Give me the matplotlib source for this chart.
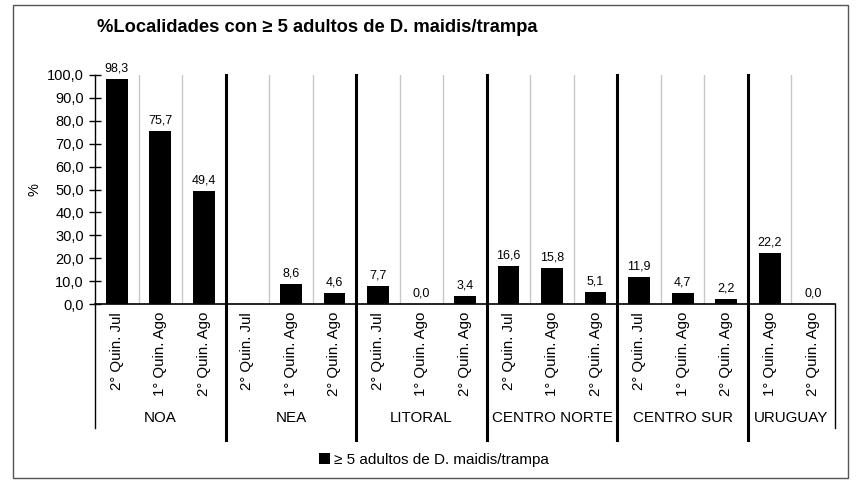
import matplotlib
matplotlib.use("Agg")
import matplotlib.pyplot as plt
import matplotlib.transforms as mtransforms
from matplotlib.patches import Patch, Rectangle

plt.rcParams['font.family'] = ['Liberation Sans', 'DejaVu Sans']

# data
regions = ['NOA', 'NEA', 'LITORAL', 'CENTRO NORTE', 'CENTRO SUR', 'URUGUAY']
periods = [
    ['2° Quin. Jul', '1° Quin. Ago', '2° Quin. Ago'],
    ['2° Quin. Jul', '1° Quin. Ago', '2° Quin. Ago'],
    ['2° Quin. Jul', '1° Quin. Ago', '2° Quin. Ago'],
    ['2° Quin. Jul', '1° Quin. Ago', '2° Quin. Ago'],
    ['2° Quin. Jul', '1° Quin. Ago', '2° Quin. Ago'],
    ['1° Quin. Ago', '2° Quin. Ago'],
]
values = [
    [98.3, 75.7, 49.4],
    [None, 8.6, 4.6],
    [7.7, 0.0, 3.4],
    [16.6, 15.8, 5.1],
    [11.9, 4.7, 2.2],
    [22.2, 0.0],
]
yticks = [0, 10, 20, 30, 40, 50, 60, 70, 80, 90, 100]
series_name = '≥ 5 adultos de D. maidis/trampa'

fig = plt.figure(figsize=(8.58, 4.84), dpi=100)
ax = fig.add_axes([95 / 858, 1 - 304 / 484, 740 / 858, 229 / 484])

# outer frame
fig.patches.append(Rectangle((13 / 858, 1 - 478 / 484), 835 / 858, 473 / 484,
                             transform=fig.transFigure, fill=False,
                             edgecolor='#555555', linewidth=1.0))

xs, labels, heights = [], [], []
pos = 0
group_bounds = []
for reg, pers, vals in zip(regions, periods, values):
    start = pos
    for p, v in zip(pers, vals):
        xs.append(pos)
        labels.append(p)
        heights.append(v)
        pos += 1
    group_bounds.append((start - 0.5, pos - 0.5, reg))
n = pos

bx = [x for x, h in zip(xs, heights) if h is not None]
bh = [h for h in heights if h is not None]
ax.bar(bx, bh, width=0.5, color='black', zorder=3)
for x, h in zip(bx, bh):
    ax.text(x, h + 2, f'{h:.1f}'.replace('.', ','), ha='center', va='bottom',
            fontsize=9)

ax.set_xlim(-0.5, n - 0.5)
ax.set_ylim(0, 100)
ax.set_yticks(yticks)
ax.set_yticklabels([f'{t:.1f}'.replace('.', ',') for t in yticks], fontsize=10.5)
ax.tick_params(axis='y', direction='inout', length=8, width=1, pad=4)
ax.set_xticks([])
for s in ['top', 'right']:
    ax.spines[s].set_visible(False)
ax.spines['bottom'].set_linewidth(1.2)
ax.spines['left'].set_linewidth(1.0)
ax.set_ylabel('%', fontsize=10.5, labelpad=4)

trans = mtransforms.blended_transform_factory(ax.transData, ax.transAxes)

# light gray lines between bars inside a group
for lo, hi, reg in group_bounds:
    b = lo + 1
    while b < hi - 0.01:
        ax.plot([b, b], [0, 1], color='#c8c8c8', lw=1, transform=trans, zorder=1)
        b += 1

# thick separators between groups
for lo, hi, reg in group_bounds[1:]:
    ax.plot([lo, lo], [1.0, -0.594], color='black', lw=2.2, transform=trans,
            clip_on=False, zorder=4)
# thin ends
ax.plot([-0.5, -0.5], [0, -0.541], color='black', lw=1, transform=trans, clip_on=False)
ax.plot([n - 0.5, n - 0.5], [0, -0.541], color='black', lw=1, transform=trans, clip_on=False)

# category labels
for x, lab in zip(xs, labels):
    ax.text(x, -0.035, lab, rotation=90, ha='center', va='top', fontsize=10.8,
            transform=trans)
# region labels
for lo, hi, reg in group_bounds:
    ax.text((lo + hi) / 2, -0.5, reg, ha='center', va='center', fontsize=10.9,
            transform=trans)

fig.text(97 / 858, 1 - 27 / 484, '%Localidades con ≥ 5 adultos de D. maidis/trampa',
         fontsize=13.2, fontweight='bold', va='center', ha='left')

fig.legend(handles=[Patch(facecolor='black', label=series_name)],
           loc='center', bbox_to_anchor=(434 / 858, 1 - 460 / 484),
           frameon=False, fontsize=11, handlelength=0.7, handleheight=0.7,
           handletextpad=0.3)

fig.savefig('out.png', dpi=100)
